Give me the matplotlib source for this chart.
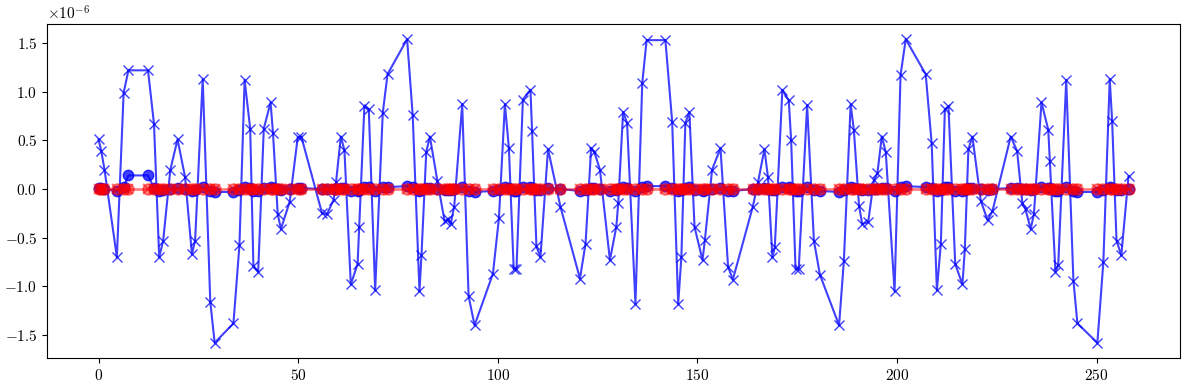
import matplotlib
matplotlib.use("Agg")
import matplotlib.pyplot as plt

plt.rcParams['font.family'] = 'serif'
plt.rcParams['font.serif'] = ['cmr10']
plt.rcParams['mathtext.fontset'] = 'cm'
plt.rcParams['axes.formatter.use_mathtext'] = True
plt.rcParams['axes.unicode_minus'] = True
plt.rcParams['font.size'] = 11

x_vals = [0, 0.7, 1.5, 4.6, 6.3, 7.5, 12.4, 13.9, 15.2, 16.2,
          18, 19.8, 21.7, 23.4, 24.2, 26.1, 28, 29.1, 33.8, 35.3,
          36.6, 38, 38.8, 40, 41.4, 43.1, 43.7, 44.9, 45.7, 47.9,
          49.9, 50.8, 56, 57.2, 58.9, 59.5, 60.7, 61.6, 63.2, 64.9,
          65.3, 66.6, 67.7, 69.3, 71.2, 72.4, 77.3, 78.7, 80.4, 80.9,
          82.1, 83, 84.9, 86.7, 87.5, 88.2, 89.1, 91.1, 92.7, 94.2,
          98.8, 100.3, 101.8, 102.8, 104, 104.7, 106.3, 108.2, 108.6, 109.7,
          110.7, 112.6, 115.7, 120.6, 122, 123.4, 124.2, 125.6, 128.1, 129.7,
          130.2, 131.4, 132.4, 134.5, 136.2, 137.3, 142, 143.7, 145.2, 146,
          147, 148, 149.3, 151.3, 151.9, 153.7, 155.8, 157.7, 158.9, 163.9,
          165.2, 166.8, 167.7, 168.8, 169.4, 171.3, 172.9, 173.5, 174.6, 175.4,
          177.5, 179.2, 180.7, 185.5, 186.7, 188.4, 189.2, 190.5, 191.3, 192.8,
          194.2, 195.1, 196.2, 197.2, 199.4, 200.9, 202.2, 207.2, 208.7, 210,
          211, 212, 212.9, 214.6, 216.4, 217, 217.9, 218.9, 221, 222.7,
          223.9, 228.5, 230.1, 231.4, 232.2, 233.5, 234.3, 236.2, 237.9, 238.3,
          239.7, 240.4, 242.4, 244.2, 245.2, 250.2, 251.7, 253.3, 253.9, 255,
          256.2, 258]

# values in units of 1e-6
blue_x_vals = [0.51, 0.39, 0.2, -0.70, 0.99, 1.22, 1.22, 0.67, -0.70, -0.53,
               0.2, 0.51, 0.12, -0.67, -0.53, 1.13, -1.16, -1.58, -1.38, -0.58,
               1.12, 0.62, -0.79, -0.85, 0.62, 0.89, 0.58, -0.26, -0.41, -0.13,
               0.53, 0.54, -0.25, -0.26, -0.11, 0.07, 0.54, 0.40, -0.98, -0.77,
               -0.39, 0.85, 0.82, -1.04, 0.78, 1.18, 1.54, 0.76, -1.05, -0.68,
               0.38, 0.54, 0.08, -0.33, -0.31, -0.36, -0.18, 0.87, -1.10, -1.40,
               -0.87, -0.30, 0.87, 0.42, -0.82, -0.82, 0.92, 1.02, 0.60, -0.59,
               -0.70, 0.41, -0.18, -0.92, -0.56, 0.42, 0.38, 0.2, -0.73, -0.39,
               -0.14, 0.79, 0.68, -1.18, 1.09, 1.53, 1.53, 0.69, -1.18, -0.70,
               0.68, 0.79, -0.39, -0.73, -0.52, 0.2, 0.42, -0.80, -0.93, -0.18,
               0.07, 0.41, 0.12, -0.70, -0.60, 1.02, 0.91, 0.50, -0.82, -0.82,
               0.86, -0.53, -0.88, -1.40, -0.74, 0.87, 0.61, -0.17, -0.36, -0.34,
               0.09, 0.16, 0.54, 0.38, -1.05, 1.17, 1.54, 1.18, 0.47, -1.04,
               -0.56, 0.82, 0.85, -0.77, -0.98, -0.62, 0.41, 0.54, -0.12, -0.32,
               -0.23, 0.54, 0.39, -0.14, -0.21, -0.41, -0.26, 0.89, 0.61, 0.29,
               -0.85, -0.78, 1.12, -0.94, -1.38, -1.58, -0.75, 1.13, 0.70, -0.53,
               -0.68, 0.13]

blue_o_vals = [0.01, 0.01, 0.0, -0.02, 0.02, 0.14, 0.14, 0.01, -0.02, -0.01,
               0.0, 0.01, 0.0, -0.02, -0.01, 0.02, -0.02, -0.03, -0.03, -0.01,
               0.02, 0.01, -0.02, -0.02, 0.01, 0.02, 0.01, 0.0, -0.01, 0.0,
               0.01, 0.01, 0.0, 0.0, 0.0, 0.0, 0.01, 0.01, -0.02, -0.02,
               -0.01, 0.02, 0.02, -0.02, 0.02, 0.02, 0.03, 0.02, -0.02, -0.01,
               0.01, 0.01, 0.0, -0.01, -0.01, -0.01, 0.0, 0.02, -0.02, -0.03,
               -0.02, -0.01, 0.02, 0.01, -0.02, -0.02, 0.02, 0.02, 0.01, -0.01,
               -0.01, 0.01, 0.0, -0.02, -0.01, 0.01, 0.01, 0.0, -0.02, -0.01,
               0.0, 0.02, 0.01, -0.02, 0.02, 0.03, 0.03, 0.01, -0.02, -0.01,
               0.01, 0.02, -0.01, -0.02, -0.01, 0.0, 0.01, -0.02, -0.02, 0.0,
               0.0, 0.01, 0.0, -0.01, -0.01, 0.02, 0.02, 0.01, -0.02, -0.02,
               0.02, -0.01, -0.02, -0.03, -0.01, 0.02, 0.01, 0.0, -0.01, -0.01,
               0.0, 0.0, 0.01, 0.01, -0.02, 0.02, 0.03, 0.02, 0.01, -0.02,
               -0.01, 0.02, 0.02, -0.02, -0.02, -0.01, 0.01, 0.01, 0.0, -0.01,
               0.0, 0.01, 0.01, 0.0, 0.0, -0.01, 0.0, 0.02, 0.01, 0.01,
               -0.02, -0.02, 0.02, -0.02, -0.03, -0.03, -0.01, 0.02, 0.01, -0.01,
               -0.01, 0.0]

red_vals = [0.0, 0.0, 0.0, 0.0, 0.0, 0.0, 0.0, 0.0, 0.0, 0.0,
            0.0, 0.0, 0.0, 0.0, 0.0, 0.0, 0.0, 0.0, 0.0, 0.0,
            0.0, 0.0, 0.0, 0.0, 0.0, 0.0, 0.0, 0.0, 0.0, 0.0,
            0.0, 0.0, 0.0, 0.0, 0.0, 0.0, 0.0, 0.0, 0.0, 0.0,
            0.0, 0.0, 0.0, 0.0, 0.0, 0.0, 0.0, 0.0, 0.0, 0.0,
            0.0, 0.0, 0.0, 0.0, 0.0, 0.0, 0.0, 0.0, 0.0, 0.0,
            0.0, 0.0, 0.0, 0.0, 0.0, 0.0, 0.0, 0.0, 0.0, 0.0,
            0.0, 0.0, 0.0, 0.0, 0.0, 0.0, 0.0, 0.0, 0.0, 0.0,
            0.0, 0.0, 0.0, 0.0, 0.0, 0.0, 0.0, 0.0, 0.0, 0.0,
            0.0, 0.0, 0.0, 0.0, 0.0, 0.0, 0.0, 0.0, 0.0, 0.0,
            0.0, 0.0, 0.0, 0.0, 0.0, 0.0, 0.0, 0.0, 0.0, 0.0,
            0.0, 0.0, 0.0, 0.0, 0.0, 0.0, 0.0, 0.0, 0.0, 0.0,
            0.0, 0.0, 0.0, 0.0, 0.0, 0.0, 0.0, 0.0, 0.0, 0.0,
            0.0, 0.0, 0.0, 0.0, 0.0, 0.0, 0.0, 0.0, 0.0, 0.0,
            0.0, 0.0, 0.0, 0.0, 0.0, 0.0, 0.0, 0.0, 0.0, 0.0,
            0.0, 0.0, 0.0, 0.0, 0.0, 0.0, 0.0, 0.0, 0.0, 0.0,
            0.0, 0.0]

scale = 1e-6

fig, ax = plt.subplots(figsize=(11.89, 3.9), dpi=100)
fig.subplots_adjust(left=47/1189, right=1180/1189, top=1-24/390, bottom=1-358/390)
ax.plot(x_vals, [v * scale for v in blue_x_vals], color='blue', marker='x',
        markersize=7, linewidth=1.5, alpha=0.75)
ax.plot(x_vals, [v * scale for v in blue_o_vals], color='blue', marker='o',
        markersize=7.5, linewidth=1.5, alpha=0.75)
ax.plot(x_vals, [v * scale for v in red_vals], color='red', marker='o',
        markersize=8, markeredgewidth=1, linewidth=2, alpha=0.5)
ax.plot(x_vals, [v * scale for v in red_vals], color='red', marker='x',
        markersize=7, markeredgewidth=1.5, linewidth=0, alpha=0.5)

fig.savefig('out.png', dpi=100)
